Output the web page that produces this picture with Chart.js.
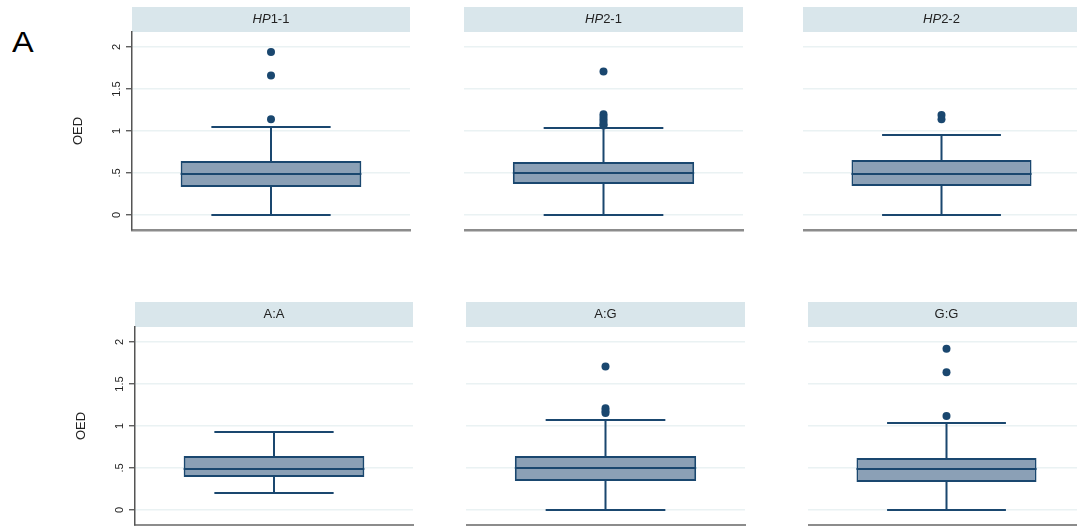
<!DOCTYPE html>
<html>
<head>
<meta charset="utf-8">
<script src="https://cdn.jsdelivr.net/npm/chart.js@4.4.1/dist/chart.umd.min.js"></script>
<style>
  html, body { margin: 0; padding: 0; background: #fff; overflow: hidden; }
  body { width: 1077px; height: 526px; position: relative; font-family: "Liberation Sans", Arial, sans-serif; }
  canvas { position: absolute; }
  #panelLetter { position: absolute; left: 12px; top: 28px; font-size: 29px; line-height: 29px; color: #000;
                 transform: scaleX(1.12); transform-origin: left top; }
</style>
</head>
<body>
<div id="panelLetter">A</div>
<canvas id="p0"></canvas>
<canvas id="p1"></canvas>
<canvas id="p2"></canvas>
<canvas id="p3"></canvas>
<canvas id="p4"></canvas>
<canvas id="p5"></canvas>
<script>
//---------------------------------------------
// OED by haplotype / genotype (Stata-like boxes)
//---------------------------------------------

// data
const panelTitles = ['HP1-1', 'HP2-1', 'HP2-2', 'A:A', 'A:G', 'G:G'];
const italicPrefix = ['HP', 'HP', 'HP', '', '', ''];
const q1 = [0.333, 0.369, 0.345, 0.393, 0.345, 0.333];
const medians = [0.488, 0.500, 0.488, 0.488, 0.500, 0.488];
const q3 = [0.643, 0.631, 0.655, 0.643, 0.643, 0.619];
const whiskerLow = [0.0, 0.0, 0.0, 0.202, 0.0, 0.0];
const whiskerHigh = [1.048, 1.036, 0.952, 0.929, 1.071, 1.036];
const outliers = [
    [1.94, 1.66, 1.14],
    [1.71, 1.20, 1.17, 1.14, 1.11, 1.08, 1.065],
    [1.19, 1.14],
    [],
    [1.71, 1.21, 1.18, 1.155],
    [1.92, 1.64, 1.12]
];
const yTicks = [0, 0.5, 1, 1.5, 2];
const yTickLabels = ['0', '.5', '1', '1.5', '2'];
const yTitle = 'OED';

// canvas placement: [left, top, width, height]
const layoutBoxes = [
    [60, 0, 352, 232],
    [464, 0, 281, 232],
    [803, 0, 279, 232],
    [63, 295, 352, 232],
    [466, 295, 281, 232],
    [808, 295, 279, 232]
];

const navy = '#1a476f';
const boxFill = '#8ba0b6';
const stripFill = '#d9e6eb';
const gridColor = '#eaf2f3';
const FONT = '"Liberation Sans", Arial, sans-serif';

const boxParts = {
    id: 'boxParts',
    beforeDraw(chart, args, opts) {
        const i = opts.idx;
        const { ctx, chartArea } = chart;
        ctx.save();
        ctx.fillStyle = stripFill;
        ctx.fillRect(chartArea.left, chartArea.top - 25, chartArea.right - chartArea.left, 25);
        // title with italic gene prefix
        const pre = italicPrefix[i];
        const rest = panelTitles[i].slice(pre.length);
        ctx.fillStyle = '#222';
        ctx.textBaseline = 'middle';
        ctx.font = 'italic 13px ' + FONT;
        const w1 = pre ? ctx.measureText(pre).width : 0;
        ctx.font = '13px ' + FONT;
        const w2 = ctx.measureText(rest).width;
        let x = (chartArea.left + chartArea.right) / 2 - (w1 + w2) / 2;
        const y = chartArea.top - 12.5;
        if (pre) {
            ctx.font = 'italic 13px ' + FONT;
            ctx.fillText(pre, x, y);
            x += w1;
        }
        ctx.font = '13px ' + FONT;
        ctx.fillText(rest, x, y);
        ctx.restore();
    },
    beforeDatasetsDraw(chart, args, opts) {
        const i = opts.idx;
        const { ctx } = chart;
        const ys = chart.scales.y;
        const bar = chart.getDatasetMeta(0).data[0];
        const cx = bar.x;
        const capHalf = bar.width / 2 * 0.66;
        const yHi = ys.getPixelForValue(whiskerHigh[i]);
        const yLo = ys.getPixelForValue(whiskerLow[i]);
        ctx.save();
        ctx.strokeStyle = navy;
        ctx.lineWidth = 2;
        ctx.beginPath();
        ctx.moveTo(cx, ys.getPixelForValue(q3[i]));
        ctx.lineTo(cx, yHi);
        ctx.moveTo(cx - capHalf, yHi);
        ctx.lineTo(cx + capHalf, yHi);
        ctx.moveTo(cx, ys.getPixelForValue(q1[i]));
        ctx.lineTo(cx, yLo);
        ctx.moveTo(cx - capHalf, yLo);
        ctx.lineTo(cx + capHalf, yLo);
        ctx.stroke();
        ctx.restore();
    },
    afterDatasetsDraw(chart, args, opts) {
        const i = opts.idx;
        const { ctx } = chart;
        const bar = chart.getDatasetMeta(0).data[0];
        const ym = chart.scales.y.getPixelForValue(medians[i]);
        ctx.save();
        ctx.strokeStyle = navy;
        ctx.lineWidth = 2;
        ctx.beginPath();
        ctx.moveTo(bar.x - bar.width / 2, ym);
        ctx.lineTo(bar.x + bar.width / 2, ym);
        ctx.stroke();
        ctx.restore();
    }
};

panelTitles.forEach((title, i) => {
    const [left, top, width, height] = layoutBoxes[i];
    const canvas = document.getElementById('p' + i);
    canvas.width = width;
    canvas.height = height;
    canvas.style.left = left + 'px';
    canvas.style.top = top + 'px';
    canvas.style.width = width + 'px';
    canvas.style.height = height + 'px';
    const firstCol = i % 3 === 0;

    new Chart(canvas.getContext('2d'), {
        type: 'bar',
        data: {
            labels: [title],
            datasets: [
                {
                    data: [[q1[i], q3[i]]],
                    backgroundColor: boxFill,
                    borderColor: navy,
                    borderWidth: 2,
                    borderSkipped: false,
                    barPercentage: 0.65,
                    categoryPercentage: 1
                },
                {
                    type: 'line',
                    data: outliers[i].map(v => ({ x: title, y: v })),
                    showLine: false,
                    pointRadius: 4,
                    pointBackgroundColor: navy,
                    pointBorderWidth: 0,
                    borderColor: navy
                }
            ]
        },
        options: {
            responsive: false,
            animation: false,
            events: [],
            layout: { autoPadding: false, padding: { top: 32, right: 2, bottom: 2, left: 0 } },
            plugins: {
                legend: { display: false },
                tooltip: { enabled: false },
                boxParts: { idx: i }
            },
            scales: {
                x: {
                    type: 'category',
                    afterFit: (scale) => { scale.height = 0; scale.paddingLeft = 0; scale.paddingRight = 0; },
                    ticks: { display: false },
                    grid: { display: false, drawTicks: false },
                    border: { display: true, color: '#8c8c8c', width: 2.5 }
                },
                y: {
                    min: -0.179,
                    max: 2.179,
                    afterBuildTicks: (scale) => { scale.ticks = yTicks.map(v => ({ value: v })); },
                    afterFit: (scale) => {
                        scale.width = firstCol ? 72 : 0;
                        scale.paddingTop = 0;
                        scale.paddingBottom = 0;
                    },
                    ticks: {
                        display: firstCol,
                        minRotation: 90,
                        maxRotation: 90,
                        crossAlign: 'center',
                        padding: 1,
                        color: '#222',
                        font: { family: FONT, size: 11 },
                        callback: (value) => yTickLabels[yTicks.indexOf(value)]
                    },
                    grid: {
                        color: gridColor,
                        lineWidth: 1.5,
                        drawTicks: firstCol,
                        tickLength: 6,
                        tickColor: '#444',
                        tickWidth: 1.2
                    },
                    border: { display: firstCol, color: '#555', width: 1.5 },
                    title: {
                        display: firstCol,
                        text: yTitle,
                        color: '#222',
                        font: { family: FONT, size: 13 },
                        padding: { top: 11, bottom: 0 }
                    }
                }
            }
        },
        plugins: [boxParts]
    });
});
</script>
</body>
</html>
